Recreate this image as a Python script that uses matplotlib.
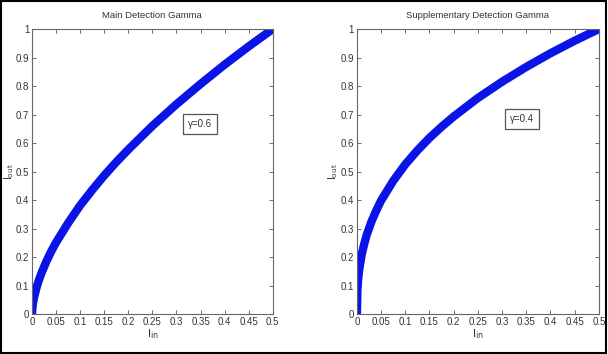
import numpy as np
import matplotlib
matplotlib.use("Agg")
import matplotlib.pyplot as plt
from matplotlib.patches import Rectangle

# values
x_in = [0, 0.001, 0.0025, 0.005, 0.01, 0.015, 0.02, 0.03, 0.04, 0.05, 0.075, 0.1,
        0.125, 0.15, 0.175, 0.2, 0.25, 0.3, 0.35, 0.4, 0.45, 0.5]
main_out = [0, 0.024, 0.042, 0.063, 0.096, 0.122, 0.145, 0.185, 0.220, 0.251,
            0.319, 0.381, 0.435, 0.486, 0.533, 0.577, 0.660, 0.736, 0.807, 0.875,
            0.939, 1.0]
supp_out = [0, 0.083, 0.120, 0.158, 0.209, 0.245, 0.276, 0.324, 0.363, 0.398,
            0.467, 0.525, 0.574, 0.618, 0.657, 0.693, 0.758, 0.815, 0.867, 0.915,
            0.959, 1.0]

titles = ["Main Detection Gamma", "Supplementary Detection Gamma"]
gamma_labels = ["\u03b3=0.6", "\u03b3=0.4"]
label_pos = [(0.349, 0.667), (0.341, 0.684)]

xticks = [0, 0.05, 0.1, 0.15, 0.2, 0.25, 0.3, 0.35, 0.4, 0.45, 0.5]
yticks = [0, 0.1, 0.2, 0.3, 0.4, 0.5, 0.6, 0.7, 0.8, 0.9, 1]

plt.rcParams['font.family'] = ['Liberation Sans', 'DejaVu Sans']

fig = plt.figure(figsize=(6.08, 3.54), dpi=100)
fig.patches.append(Rectangle((0.002, 0.003), 0.995, 0.993, transform=fig.transFigure,
                             fill=False, edgecolor='black', linewidth=1.5))

positions = [[0.0526, 0.113, 0.396, 0.805], [0.587, 0.113, 0.398, 0.805]]
curves = [main_out, supp_out]

for i in range(2):
    ax = fig.add_axes(positions[i])
    ax.plot(x_in, curves[i], color='#0a14e6', linewidth=6, solid_capstyle='butt',
            solid_joinstyle='round')
    ax.set_xlim(0, 0.5)
    ax.set_ylim(0, 1)
    ax.set_xticks(xticks)
    ax.set_yticks(yticks)
    ax.set_xticklabels([('%g' % v) for v in xticks])
    ax.set_yticklabels([('%g' % v) for v in yticks])
    ax.tick_params(direction='in', top=True, right=True, labelsize=7,
                   length=3, width=0.6, color='#555555', labelcolor='#333333', pad=2)
    for s in ax.spines.values():
        s.set_color('#666666')
        s.set_linewidth(0.8)
    ax.set_title(titles[i], fontsize=6.8, color='#333333', pad=8)
    ax.set_xlabel('I$_{\\mathrm{in}}$', fontsize=8, color='#333333', labelpad=0)
    ax.set_ylabel('I$_{\\mathrm{out}}$', fontsize=7.5, color='#333333')
    ax.yaxis.set_label_coords(-0.068, 0.5)
    ax.text(label_pos[i][0], label_pos[i][1], gamma_labels[i], fontsize=7,
            color='#333333', ha='center', va='center',
            bbox=dict(boxstyle='square,pad=0.5', facecolor='white',
                      edgecolor='#555555', linewidth=0.9))

fig.savefig('out.png', dpi=100)
